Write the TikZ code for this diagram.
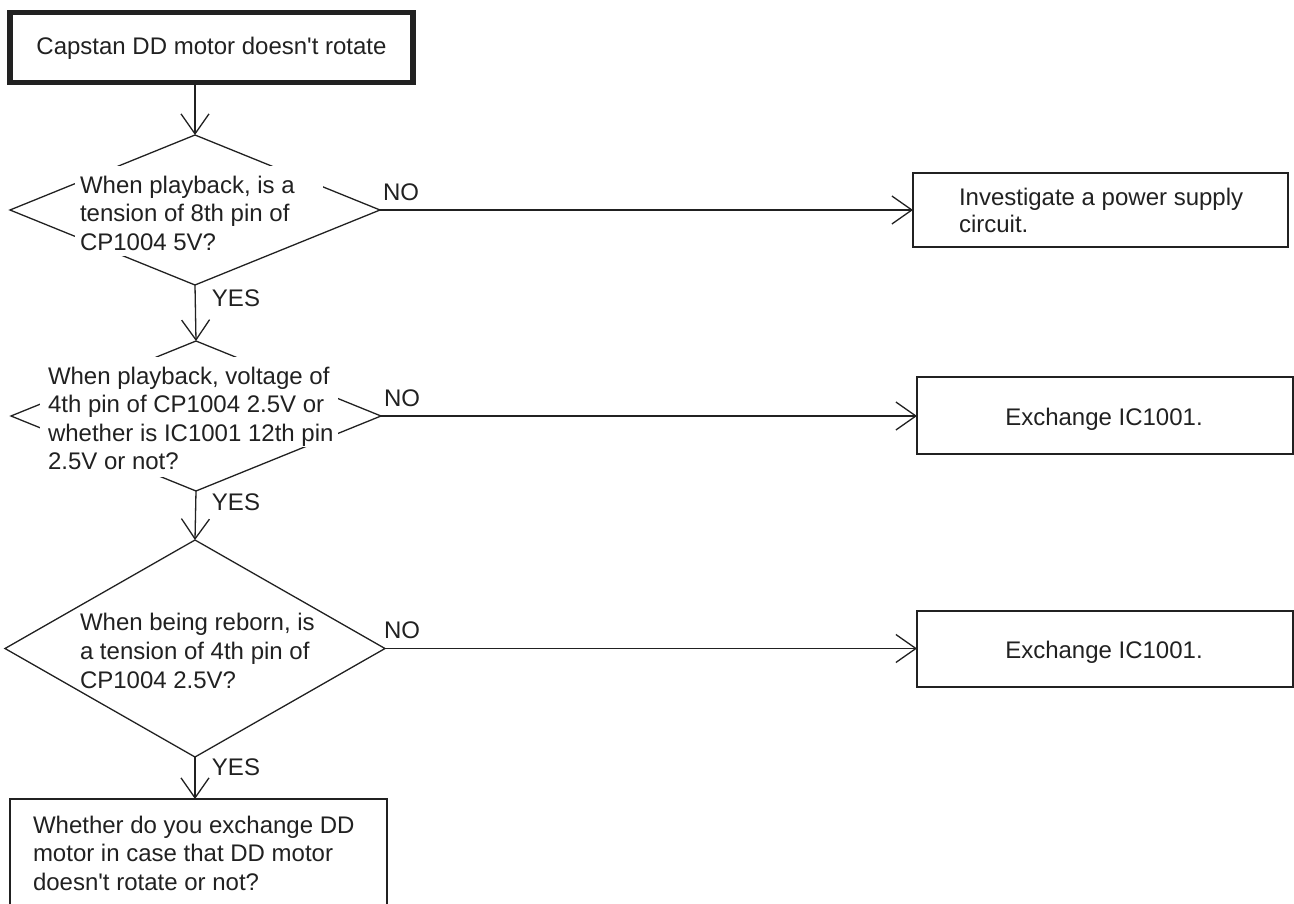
\documentclass[tikz,border=0pt]{standalone}
\usepackage{fontspec}
\setmainfont{Liberation Sans}[Ligatures=TeXOff]
\usetikzlibrary{shapes.geometric,arrows.meta}
\definecolor{ink}{gray}{0.13}
\begin{document}
\begin{tikzpicture}[x=1pt,y=-1pt,line width=1.3pt,
  every node/.style={font=\fontsize{24}{28.5}\selectfont,text=ink,inner sep=0pt,outer sep=0pt},
  box/.style={draw=ink,rectangle},
  dia/.style={draw=ink,diamond,shape aspect=1},
  txt/.style={anchor=base west},
  arr/.style={draw=ink,-{Straight Barb[length=20pt,width=28pt]}},
  lbl/.style={anchor=center}]
\useasboundingbox (0,0) rectangle (1294,904);
% boxes
\node[box,line width=5.3pt,minimum width=403pt,minimum height=70pt] (top) at (211.5,47.5) {};
\node[anchor=base] (toptxt) at (211.5,55) {Capstan DD motor doesn't rotate};
\node[box,minimum width=375pt,minimum height=74pt] (r1) at (1100.5,210) {};
\node[box,minimum width=376pt,minimum height=77pt] (r2) at (1105,415.5) {};
\node[box,minimum width=376pt,minimum height=76pt] (r3) at (1105,649) {};
\node[box,minimum width=377pt,minimum height=113pt] (bot) at (198.5,855.5) {};
% diamonds
\node[dia,minimum width=370pt,minimum height=150pt] (d1) at (195,210) {};
\node[dia,minimum width=370pt,minimum height=150pt] (d2) at (196,416) {};
\node[dia,minimum width=380pt,minimum height=217pt] (d3) at (195,648.5) {};
% white masks behind question text
\fill[white] (75,166) rectangle (323,228);
\fill[white] (75,228) rectangle (215,256);
\fill[white] (40,357) rectangle (338,447);
\fill[white] (40,447) rectangle (200,477);
% texts
\node[txt] (d1a) at (80,193.5) {When playback, is a};
\node[txt] (d1b) at (80,222) {tension of 8th pin of};
\node[txt] (d1c) at (80,250.5) {CP1004 5V?};
\node[txt] (d2a) at (48,384) {When playback, voltage of};
\node[txt] (d2b) at (48,412.5) {4th pin of CP1004 2.5V or};
\node[txt] (d2c) at (48,441) {whether is IC1001 12th pin};
\node[txt] (d2d) at (48,469.5) {2.5V or not?};
\node[txt] (d3a) at (80,630) {When being reborn, is};
\node[txt] (d3b) at (80,659) {a tension of 4th pin of};
\node[txt] (d3c) at (80,688) {CP1004 2.5V?};
\node[txt] (r1a) at (959,205.5) {Investigate a power supply};
\node[txt] (r1b) at (959,232.5) {circuit.};
\node[anchor=base] (r2t) at (1104,425) {Exchange IC1001.};
\node[anchor=base] (r3t) at (1104,658) {Exchange IC1001.};
\node[txt] (b1) at (33,833) {Whether do you exchange DD};
\node[txt] (b2) at (33,861.5) {motor in case that DD motor};
\node[txt] (b3) at (33,890) {doesn't rotate or not?};
% labels
\node[lbl] (no1) at (401,192) {NO};
\node[lbl] (no2) at (402,398) {NO};
\node[lbl] (no3) at (402,630) {NO};
\node[lbl] (yes1) at (236,298) {YES};
\node[lbl] (yes2) at (236,502) {YES};
\node[lbl] (yes3) at (236,767) {YES};
% connectors
\draw[arr] (d1.north |- top.south) -- (d1.north);
\draw[arr] (d1.south) -- (d2.north);
\draw[arr] (d2.south) -- (d3.north);
\draw[arr] (d3.south) -- (d3.south |- bot.north);
\draw[arr] (d1.east) -- (d1.east -| r1.west);
\draw[arr] (d2.east) -- (d2.east -| r2.west);
\draw[arr] (d3.east) -- (d3.east -| r3.west);
\end{tikzpicture}
\end{document}
